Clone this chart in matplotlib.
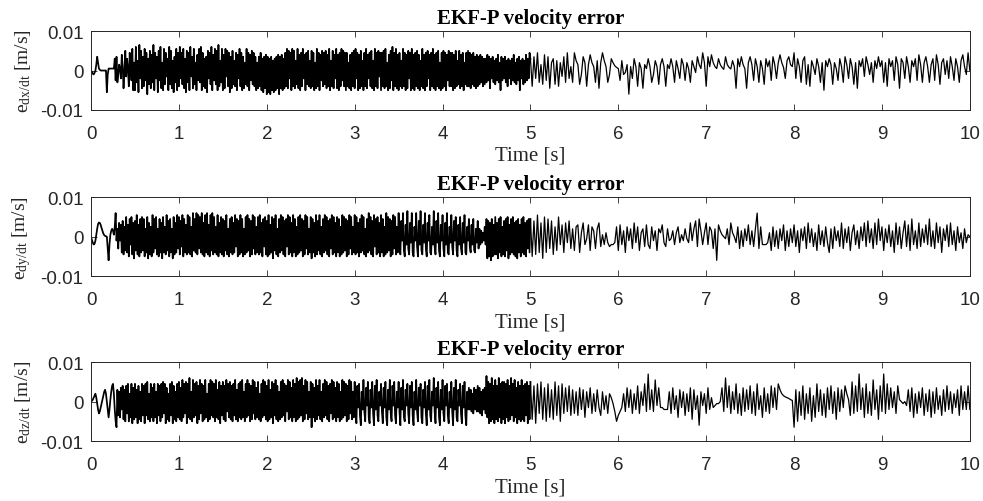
import matplotlib
matplotlib.use("Agg")
import matplotlib.pyplot as plt
import numpy as np

plt.rcParams['font.family'] = ['Liberation Serif', 'DejaVu Serif']
plt.rcParams['mathtext.fontset'] = 'custom'
plt.rcParams['mathtext.rm'] = 'Liberation Serif'
plt.rcParams['mathtext.it'] = 'Liberation Serif:italic'
plt.rcParams['axes.unicode_minus'] = False
plt.rcParams['path.simplify'] = False  # keep every zigzag vertex

# values in 1e-4 m/s
# dense part: 0.00 .. 4.99 s every 0.01 s, sparse part: 5.00 .. 10.00 s every 0.02 s
vx_dense = [
    0, -3, -8, -10, -6, 0, 15, 35, 20, 5,
    2, 0, 0, 0, 0, 0, 0, 0, -55, -10,
    5, 5, 5, 5, 5, 5, 5, 30, -25, 35,
    -30, -10, 15, 5, -20, 40, 10, -45, -5, 50,
    -15, 30, 5, -40, 45, 10, -25, 55, -50, 20,
    -50, 60, -30, 25, -55, 65, -20, 50, -45, 35,
    -40, 55, -25, 45, -60, 30, -35, 50, -45, 40,
    -30, 65, -50, 45, -20, 35, -55, 50, -25, 60,
    -45, 20, -50, 55, -35, 45, -15, 30, -50, 60,
    -35, 50, -45, 25, -55, 35, -30, 55, -50, 45,
    -40, 60, -20, 45, -35, 55, -45, 30, -55, 50,
    -30, 45, -50, 60, -15, 35, -45, 55, -35, 20,
    -50, 40, -25, 55, -30, 60, -50, 45, -40, 30,
    -45, 35, -55, 50, -20, 45, -35, 60, -50, 40,
    -25, 55, -35, 50, -50, 65, -40, 25, -30, 55,
    -50, 40, -45, 55, -15, 50, -40, 45, -55, 35,
    -45, 50, -35, 25, -40, 45, -50, 40, -20, 55,
    -40, 45, -50, 35, -45, 20, -35, 55, -40, 45,
    -50, 40, -25, 50, -35, 45, -40, 35, -50, 20,
    -45, 35, -40, 45, -50, 30, -55, 35, -45, 40,
    -60, 35, -55, 30, -60, 35, -50, 25, -55, 30,
    -50, 35, -45, 40, -60, 35, -45, 40, -50, 30,
    -45, 45, -40, 55, -45, 50, -20, 45, -50, 55,
    -40, 50, -45, 25, -35, 55, -45, 40, -50, 45,
    -40, 55, -20, 40, -50, 45, -35, 50, -40, 25,
    -45, 50, -40, 45, -50, 20, -45, 55, -40, 45,
    -50, 40, -25, 50, -40, 45, -35, 50, -45, 40,
    -40, 55, -50, 25, -40, 50, -45, 40, -20, 55,
    -45, 40, -50, 45, -40, 55, -25, 50, -40, 45,
    -50, 45, -40, 20, -45, 40, -50, 45, -40, 50,
    -45, 55, -20, 45, -50, 40, -45, 50, -40, 25,
    -50, 45, -40, 55, -45, 40, -20, 45, -40, 50,
    -45, 25, -50, 55, -40, 45, -45, 50, -15, 45,
    -50, 45, -40, 50, -45, 55, -40, 20, -50, 40,
    -45, 50, -25, 60, -50, 45, -40, 55, -45, 40,
    -50, 45, -40, 25, -45, 55, -40, 45, -50, 40,
    -45, 50, -20, 45, -50, 55, -45, 40, -50, 45,
    -40, 50, -45, 40, -50, 25, -40, 55, -45, 40,
    -50, 45, -40, 50, -20, 40, -50, 45, -40, 55,
    -45, 40, -50, 45, -40, 50, -45, 20, -50, 45,
    -45, 50, -40, 45, -50, 40, -25, 50, -40, 45,
    -40, 45, -50, 40, -45, 50, -40, 25, -35, 50,
    -45, 40, -40, 45, -50, 20, -35, 45, -40, 50,
    -40, 45, -45, 40, -35, 45, -40, 35, -45, 40,
    -40, 35, -35, 40, -30, 35, -40, 30, -35, 30,
    -30, 40, -25, 35, -45, 30, -20, 35, -30, 25,
    -35, 30, -25, 40, -30, 20, -50, 35, -25, 30,
    -20, 35, -30, 25, -40, 30, -20, 25, -35, 30,
    -25, 40, -30, 20, -35, 30, -25, 35, -50, 25,
    -20, 30, -35, 25, -30, 40, -25, 30, -20, 45,
]
vx_sparse = [
    30, -40, 35, -20, 45, -30, 15, -35, 40, -25, 35, -45, 20, 30, -35, 25, -40, 20, -15, 35, -30, 45, -20, 10, -30,
    45, 25, 15, -35, -10, 35, 20, -40, 15, 40, 20, 10, -30, 25, -45, 20, 45, 25, 10, -30, -10, 30, 20, 12, 8,
    5, -25, 25, -10, -5, 15, -60, 10, -20, 30, 10, -40, 20, 5, -45, 15, 5, 30, 10, -30, -10, 25, 10, -35, 15,
    30, 10, -40, 15, 5, 30, 10, -30, 25, 5, -20, 30, 15, -25, 20, 5, -30, 25, 10, -5, 35, 15, 5, 45, 20,
    -40, 35, 10, 40, 20, 10, 5, 30, 15, 8, 3, 35, 15, 8, 4, 25, 10, -45, 30, 10, 35, 15, 5, -45, 20,
    35, 15, -25, 30, 10, -30, 25, 5, -35, 30, 10, 25, -25, 35, 15, -20, 20, 40, 20, 8, -20, 25, 35, 15, 10,
    45, -20, 30, 10, -30, 25, 35, -35, 15, -40, 25, 10, -10, 30, 10, -30, 20, -50, 25, 10, 30, 15, -35, 20, 5,
    -25, 30, 10, -30, 35, 15, -20, 30, 10, -35, 20, -45, 25, 10, 30, -15, 35, 15, -10, 20, -30, 25, 5, 35, 10,
    25, -30, 20, -40, 30, 10, 25, -25, 35, 15, -45, 30, 20, -20, 35, 10, -30, 25, 10, 30, -25, 40, 15, -30, 20,
    35, 10, -30, 15, 30, -25, 40, 15, -35, 20, 30, -10, 25, -20, 35, 10, -25, 30, 10, -30, 25, 40, 10, -10, 45,
    0,
]

vy_dense = [
    0, -8, -15, -20, -18, -10, 5, 20, 32, 36,
    35, 30, 22, 15, 8, 4, 2, 1, 0, -30,
    -60, -20, 5, 15, 20, 15, 5, 25, 60, -10,
    20, -30, 35, -10, 30, -40, 40, -45, 25, -35,
    50, -40, 30, -50, 45, -20, 50, -45, 35, -55,
    40, -35, 55, -45, 30, -50, 45, -40, 50, -35,
    45, -50, 20, -40, 50, -55, 35, -45, 25, -50,
    55, -40, 45, -30, 50, -45, 20, -50, 45, -40,
    35, -55, 50, -40, 25, -45, 55, -35, 40, -50,
    45, -40, 20, -55, 50, -45, 35, -40, 55, -30,
    50, -45, 40, -25, 55, -50, 45, -40, 30, -45,
    55, -40, 50, -45, 25, -50, 60, -35, 45, -40,
    60, -45, 55, -30, 50, -40, 60, -45, 35, -50,
    55, -40, 60, -45, 30, -50, 55, -35, 60, -45,
    50, -40, 25, -45, 55, -50, 35, -40, 50, -45,
    45, -50, 40, -35, 55, -45, 20, -50, 45, -40,
    50, -45, 35, -40, 55, -25, 45, -50, 40, -45,
    55, -40, 45, -50, 20, -45, 50, -40, 55, -35,
    45, -50, 40, -45, 55, -30, 50, -45, 25, -40,
    50, -45, 55, -40, 35, -50, 45, -25, 50, -45,
    40, -50, 55, -45, 30, -40, 50, -55, 45, -35,
    55, -45, 20, -50, 45, -40, 55, -35, 50, -45,
    40, -50, 45, -25, 55, -45, 50, -40, 35, -50,
    55, -40, 45, -50, 25, -45, 50, -40, 55, -35,
    45, -50, 40, -45, 55, -30, 50, -45, 20, -40,
    50, -55, 45, -40, 35, -50, 55, -45, 40, -35,
    55, -45, 25, -50, 45, -40, 55, -35, 50, -45,
    40, -50, 45, -30, 55, -45, 50, -40, 35, -50,
    50, -40, 45, -50, 25, -45, 55, -40, 50, -35,
    45, -50, 40, -45, 55, -30, 50, -45, 25, -40,
    55, -45, 50, -40, 35, -50, 45, -40, 55, -35,
    50, -45, 20, -50, 45, -40, 60, -35, 50, -45,
    40, -50, 55, -25, 45, -45, 50, -40, 35, -50,
    55, -40, 45, -50, 25, -45, 60, -40, 50, -35,
    45, -50, 40, -45, 55, -30, 50, -45, 25, -40,
    60, -20, -45, 40, -10, 60, -35, -50, 30, -20,
    65, -30, -45, 35, -15, 60, -40, -50, 25, -10,
    60, -25, -50, 40, -20, 65, -35, -45, 30, -15,
    60, -30, -50, 35, -10, 55, -40, -45, 25, -20,
    65, -25, -45, 40, -15, 60, -35, -50, 30, -10,
    55, -30, -50, 35, -20, 60, -40, -45, 25, -15,
    55, -25, -45, 40, -10, 50, -35, -50, 30, -20,
    50, -30, -45, 35, -15, 55, -40, -45, 25, -10,
    45, -25, -40, 30, -20, 45, -35, -40, 20, -15,
    40, -30, 20, -20, 15, -15, 10, -10, 25, -20,
    45, -55, 40, -50, 35, -60, 45, -50, 30, -45,
    50, -45, 35, -55, 45, -40, 50, -50, 25, -45,
    40, -50, 45, -35, 50, -55, 30, -45, 45, -40,
    50, -45, 35, -50, 40, -55, 45, -40, 30, -50,
    45, -40, 50, -45, 35, -50, 40, -30, 45, -40,
]
vy_sparse = [
    45, -50, 40, -45, 55, -40, 35, -55, 50, -40, 45, -30, 40, -45, 25, -35, 50, -20, 30, -40, 35, -15, 40, -30, 20,
    -35, 25, 30, -40, 10, 35, -20, -5, 30, -35, 25, 15, -30, 20, 35, -25, 5, -20, 10, -15, -25, -20, -20, -15, 25,
    -35, 30, -20, 15, -40, 25, -10, 20, -30, 35, -15, 25, -35, 10, 20, -25, 30, -20, -30, 25, -10, 15, -35, 20, 10,
    30, -15, -25, 20, -10, -5, 15, -20, 10, 25, -15, 5, -10, 20, -5, -15, 35, -10, 20, 40, -25, 45, 15, -20, 10,
    35, -20, 25, 15, -30, 20, -60, 30, 15, 5, 0, -5, 20, -20, 35, 10, 0, -15, 25, -30, 15, -25, 20, -10, 30,
    -20, 15, -25, 20, 60, -30, 25, -20, -20, -20, -15, 10, -35, 25, -25, 15, -30, 20, -10, 30, -35, 15, -25, 20, -15,
    30, -25, 15, -40, 20, -10, 25, -30, 35, -15, 20, -25, 10, -35, 30, -20, 15, -25, 25, -15, -40, 20, -30, 25, -10,
    15, -25, 35, -30, 20, -15, 25, -35, 10, 30, -20, 15, -30, 25, -10, 35, -25, 40, -15, 20, -30, 35, -20, 45, -10,
    25, -35, 20, -15, 30, -25, 15, -40, 35, -20, 25, -30, 10, 40, -25, 30, -35, 45, -20, 15, -30, 35, -25, 20, -15,
    30, -20, 45, -25, 15, -30, 35, -15, 25, -40, 20, -10, 30, -25, 35, -20, 15, -35, 25, -15, 10, -30, 20, -15, 5,
    0,
]

vz_dense = [
    0, 2, 5, 10, 15, 20, 10, -5, -20, -30,
    -25, -15, -5, 5, 15, 25, 30, 20, 0, -20,
    -40, -20, 5, 25, 40, 45, 20, -20, -50, -65,
    30, -35, 25, -40, 35, -20, 40, -45, 30, -50,
    40, -30, 45, -50, 20, -40, 45, -55, 35, -45,
    45, -40, 30, -55, 40, -45, 25, -50, 45, -35,
    40, -55, 45, -35, 50, -45, 20, -50, 45, -40,
    35, -50, 45, -40, 25, -55, 45, -35, 40, -50,
    45, -40, 50, -30, 45, -55, 35, -45, 20, -50,
    45, -35, 50, -55, 40, -45, 25, -50, 45, -40,
    50, -45, 35, -50, 55, -40, 45, -30, 50, -55,
    45, -40, 60, -45, 25, -50, 55, -40, 45, -35,
    50, -55, 40, -45, 55, -30, 45, -50, 40, -45,
    55, -40, 20, -50, 45, -45, 55, -35, 50, -40,
    45, -50, 55, -40, 30, -45, 50, -55, 40, -35,
    50, -45, 40, -50, 55, -25, 45, -40, 50, -45,
    40, -50, 45, -35, 55, -45, 30, -50, 45, -40,
    50, -45, 55, -40, 25, -50, 45, -40, 55, -35,
    45, -50, 40, -45, 55, -30, 50, -45, 35, -40,
    50, -45, 20, -50, 45, -40, 55, -35, 50, -45,
    40, -50, 55, -45, 30, -40, 50, -55, 45, -35,
    55, -45, 40, -50, 25, -45, 50, -40, 55, -35,
    45, -50, 40, -25, 55, -45, 50, -40, 35, -50,
    55, -40, 45, -50, 60, -45, 50, -40, 55, -35,
    60, -50, 40, -45, 55, -30, 50, -45, 25, -40,
    50, -65, 45, -40, 35, -50, 55, -45, 40, -35,
    55, -45, 25, -50, 45, -40, 55, -35, 50, -45,
    40, -50, 45, -30, 55, -45, 50, -40, 35, -50,
    50, -40, 45, -50, 25, -45, 55, -40, 50, -35,
    45, -50, 40, -45, 55, -30, 50, -45, 25, -40,
    50, -30, -55, 40, -15, 45, -35, -60, 25, -20,
    55, -25, -50, 35, -10, 50, -40, -55, 30, -15,
    50, -30, -60, 40, -20, 55, -35, -50, 25, -10,
    45, -25, -55, 35, -15, 50, -40, -60, 30, -20,
    55, -30, -50, 40, -10, 50, -35, -55, 25, -15,
    50, -25, -60, 35, -20, 55, -40, -50, 30, -10,
    45, -30, -55, 40, -15, 50, -35, -60, 25, -20,
    55, -25, -50, 35, -10, 45, -40, -55, 30, -15,
    50, -30, -60, 40, -20, 55, -35, -50, 25, -10,
    60, -25, -55, 35, -15, 50, -40, -60, 30, -20,
    55, -30, -50, 40, -10, 45, -35, -55, 25, -15,
    50, -25, -60, 35, -20, 55, -40, -50, 30, -10,
    45, -30, -55, 40, -15, 50, -35, -60, 25, -20,
    35, -20, 30, -25, 20, -30, 35, -20, 30, -25,
    40, -25, 35, -30, 25, -35, 30, -20, 35, -30,
    65, -40, 50, -55, 45, -50, 60, -45, 40, -55,
    55, -45, 40, -50, 60, -40, 45, -55, 50, -45,
    50, -55, 45, -40, 55, -50, 40, -45, 60, -35,
    45, -50, 55, -40, 35, -55, 50, -45, 40, -50,
    55, -45, 40, -50, 45, -35, 50, -55, 40, -45,
]
vz_sparse = [
    50, -45, 40, -55, 45, -30, 50, -45, 35, -50, 45, -40, 30, -45, 50, -35, 40, -50, 45, -30, 35, -25, 40, -35, 30,
    -30, 25, -35, 35, -20, 30, -40, 25, -15, 35, -30, 20, -25, 30, -15, -35, 25, -20, 15, -30, 20, 10, -5, -25, -50,
    -35, -25, -15, 20, -25, 35, -15, 30, -30, 20, -20, 40, -30, 25, -10, 45, -25, 70, -20, 30, -25, 55, -10, 35, -15,
    -15, -20, -20, -20, 25, -30, 35, -20, 15, -40, 30, -15, 25, -35, 20, -25, 35, -45, 30, -20, 15, -60, 25, -10, 20,
    -30, 35, -20, 10, -15, -10, -5, -5, 0, 35, -25, 60, -15, 40, -30, 25, -20, 45, -30, 20, -35, 35, -25, 30, -20,
    40, -30, 25, -35, 45, -20, 15, -40, 35, -25, 20, -30, 40, -15, 35, -20, 45, 30, 20, 15, 12, 10, 8, 5, 3,
    -65, 30, -50, 25, -35, 40, -45, 20, -30, 35, -50, 15, -40, 45, -25, 30, -35, 20, -40, 35, -20, 40, -30, 25, -45,
    35, -25, 30, -15, 40, 20, 5, -35, 50, -30, 40, -25, 70, -20, 35, -40, 45, -30, 25, -35, 55, -20, 30, -45, 40,
    -25, 70, -30, 45, -20, 35, -15, 25, -30, 40, 5, 0, -5, 0, -10, 30, -25, 35, -40, 20, -30, 25, -15, 35, -35,
    20, -25, 30, -40, 25, -30, 35, -20, 15, -35, 30, -25, 40, -20, 25, -30, 20, -15, 30, -35, 40, -20, 25, -20, 40,
    -20,
]

y_labels = [r'$\mathrm{e}_{\mathrm{dx/dt}}$ [m/s]',
            r'$\mathrm{e}_{\mathrm{dy/dt}}$ [m/s]',
            r'$\mathrm{e}_{\mathrm{dz/dt}}$ [m/s]']
x_ticks = list(range(11))
y_ticks = [-0.01, 0, 0.01]
y_tick_labels = ['-0.01', '0', '0.01']

series = [(vx_dense, vx_sparse), (vy_dense, vy_sparse), (vz_dense, vz_sparse)]
for d, s in series:
    assert len(d) == 500 and len(s) == 251, (len(d), len(s))

fig = plt.figure(figsize=(9.83, 5.02), dpi=100)
bottoms = [0.779, 0.448, 0.1195]

for (dense, sparse), lab, b in zip(series, y_labels, bottoms):
    t_d = np.arange(len(dense)) * 0.01
    t_s = 5.0 + np.arange(len(sparse)) * 0.02
    v_d = np.array(dense) * 1e-4
    v_s = np.array(sparse) * 1e-4

    ax = fig.add_axes([0.0926, b, 0.894, 0.157])
    # same trace, drawn in two pieces so the fast part reads as a filled band
    ax.plot(np.append(t_d, t_s[0]), np.append(v_d, v_s[0]), color='k', lw=1.25)
    ax.plot(t_s, v_s, color='k', lw=0.9)
    ax.set_xlim(0, 10)
    ax.set_ylim(-0.01, 0.01)
    ax.set_xticks(x_ticks, labels=[str(i) for i in x_ticks], fontfamily='Liberation Sans')
    ax.set_yticks(y_ticks, labels=y_tick_labels, fontfamily='Liberation Sans')
    ax.tick_params(direction='in', top=True, right=True, length=4.5, width=0.6,
                   labelsize=13.5, colors='#262626')
    ax.tick_params(axis='x', pad=10.5)
    ax.tick_params(axis='y', pad=5.5)
    for sp in ax.spines.values():
        sp.set_linewidth(0.7)
        sp.set_color('#262626')
    ax.set_title('EKF-P velocity error', fontsize=15, fontweight='bold', pad=6)
    ax.set_xlabel('Time [s]', fontsize=15, labelpad=3.2, color='#262626')
    ax.set_ylabel(lab, fontsize=14, labelpad=5.5, color='#262626')

fig.savefig('out.png', dpi=100)
